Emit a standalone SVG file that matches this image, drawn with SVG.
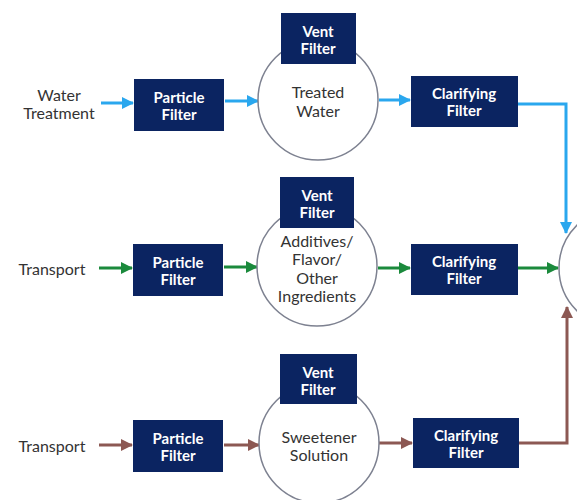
<svg xmlns="http://www.w3.org/2000/svg" width="577" height="500" viewBox="0 0 577 500">
<style>
.box{fill:#0b2461;}
.bt{fill:#ffffff;font-family:Lato,"Liberation Sans",sans-serif;font-weight:bold;font-size:15px;text-anchor:middle;dominant-baseline:central;}
.ct{fill:#333333;font-family:Lato,"Liberation Sans",sans-serif;font-size:16px;text-anchor:middle;dominant-baseline:central;}
.tank{fill:#ffffff;stroke:#7d8190;stroke-width:1.5;}
.blue{stroke:#2aa7ee;stroke-width:3;fill:none;marker-end:url(#mb);}
.green{stroke:#1b8a3c;stroke-width:3;fill:none;marker-end:url(#mg);}
.brown{stroke:#8c5853;stroke-width:3;fill:none;marker-end:url(#mr);}
</style>
<defs>
<marker id="mb" markerUnits="userSpaceOnUse" markerWidth="12" markerHeight="12" refX="11" refY="6" orient="auto"><path d="M0,0 L12,6 L0,12 Z" fill="#2aa7ee"/></marker>
<marker id="mg" markerUnits="userSpaceOnUse" markerWidth="12" markerHeight="12" refX="11" refY="6" orient="auto"><path d="M0,0 L12,6 L0,12 Z" fill="#1b8a3c"/></marker>
<marker id="mr" markerUnits="userSpaceOnUse" markerWidth="12" markerHeight="12" refX="11" refY="6" orient="auto"><path d="M0,0 L12,6 L0,12 Z" fill="#8c5853"/></marker>
</defs>
<rect width="577" height="500" fill="#ffffff"/>
<g id="connectors">
<path class="blue" d="M101,103 H133"/>
<path class="blue" d="M225,101 H258"/>
<path class="blue" d="M379,100 H410"/>
<path class="blue" d="M518,104 H566 V233"/>
<path class="green" d="M99,268 H132"/>
<path class="green" d="M224,267 H257"/>
<path class="green" d="M378,268 H410"/>
<path class="green" d="M518,268 H558"/>
<path class="brown" d="M99,445 H132"/>
<path class="brown" d="M224,445 H259"/>
<path class="brown" d="M379,443 H412"/>
<path class="brown" d="M519,443 H567 V307"/>
</g>
<g id="src1"><text class="ct" x="59" y="94">Water</text><text class="ct" x="59" y="112">Treatment</text></g>
<g id="src2"><text class="ct" x="52" y="268">Transport</text></g>
<g id="src3"><text class="ct" x="52" y="445">Transport</text></g>
<g id="pf1"><rect class="box" x="134" y="79" width="90" height="52"/><text class="bt" x="179" y="97">Particle</text><text class="bt" x="179" y="114">Filter</text></g>
<g id="pf2"><rect class="box" x="133" y="244" width="90" height="52"/><text class="bt" x="178" y="262">Particle</text><text class="bt" x="178" y="279">Filter</text></g>
<g id="pf3"><rect class="box" x="133" y="420" width="90" height="52"/><text class="bt" x="178" y="438">Particle</text><text class="bt" x="178" y="455">Filter</text></g>
<g id="tank1"><circle class="tank" cx="318" cy="100" r="60"/><text class="ct" x="318" y="91">Treated</text><text class="ct" x="318" y="110">Water</text></g>
<g id="vent1"><rect class="box" x="281" y="13" width="75" height="51"/><text class="bt" x="318" y="31">Vent</text><text class="bt" x="318" y="48">Filter</text></g>
<g id="tank2"><circle class="tank" cx="317" cy="266" r="60"/><text class="ct" x="317" y="240">Additives/</text><text class="ct" x="317" y="258">Flavor/</text><text class="ct" x="317" y="277">Other</text><text class="ct" x="317" y="295">Ingredients</text></g>
<g id="vent2"><rect class="box" x="280" y="177" width="74" height="51"/><text class="bt" x="317" y="195">Vent</text><text class="bt" x="317" y="212">Filter</text></g>
<g id="tank3"><circle class="tank" cx="319" cy="443" r="60"/><text class="ct" x="319" y="436">Sweetener</text><text class="ct" x="319" y="454">Solution</text></g>
<g id="vent3"><rect class="box" x="280" y="354" width="77" height="50"/><text class="bt" x="318" y="372">Vent</text><text class="bt" x="318" y="389">Filter</text></g>
<g id="cf1"><rect class="box" x="411" y="76" width="107" height="51"/><text class="bt" x="464" y="93">Clarifying</text><text class="bt" x="464" y="110">Filter</text></g>
<g id="cf2"><rect class="box" x="411" y="244" width="107" height="51"/><text class="bt" x="464" y="261">Clarifying</text><text class="bt" x="464" y="278">Filter</text></g>
<g id="cf3"><rect class="box" x="413" y="418" width="106" height="50"/><text class="bt" x="466" y="435">Clarifying</text><text class="bt" x="466" y="452">Filter</text></g>
<g id="mix"><circle class="tank" cx="619" cy="268" r="60"/></g>
</svg>
